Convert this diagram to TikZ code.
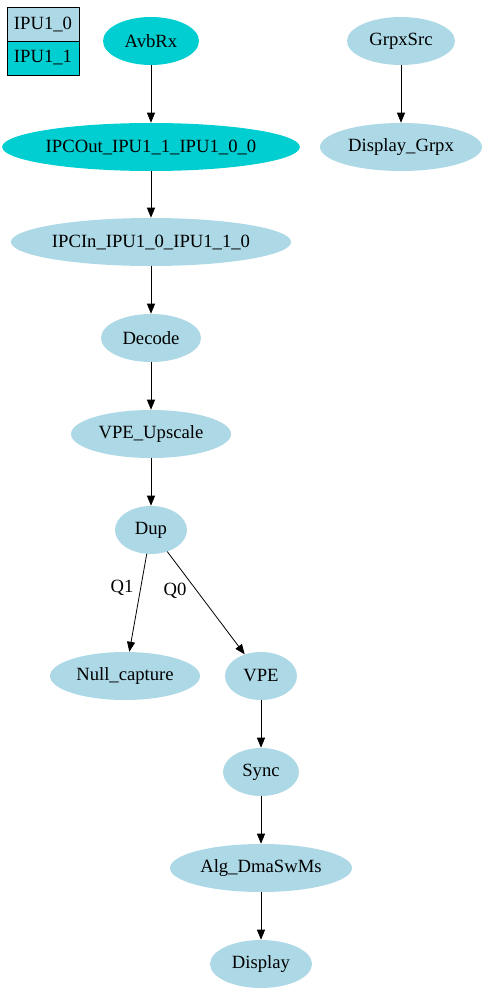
\documentclass[tikz,border=0pt]{standalone}
\usepackage{fontspec}
\setmainfont{Liberation Serif}
\usepackage{tikz}
\usetikzlibrary{shapes.geometric}
\usetikzlibrary{arrows.meta}
\definecolor{lblue}{RGB}{173,216,230}
\definecolor{dturq}{RGB}{0,206,209}
\tikzset{
  blk/.style={ellipse,fill=lblue,inner sep=0pt,minimum height=48*0.75pt,font=\fontsize{14}{16}\selectfont},
  ipu/.style={blk,fill=dturq},
  legbox/.style={draw,line width=0.6pt,inner sep=0pt,minimum width=72*0.75pt,minimum height=34*0.75pt,font=\fontsize{14}{16}\selectfont},
  lnk/.style={line width=0.6pt,->},
  lbl/.style={font=\fontsize{14}{16}\selectfont}
}
\begin{document}
\begin{tikzpicture}[line cap=round,line join=round,>={Triangle[length=7.5pt,width=6pt]},x=0.75pt,y=-0.75pt]
\useasboundingbox (0,0) rectangle (487,995);
% legend
\node[legbox,fill=lblue] (leg0) at (43,24) {IPU1\_0};
\node[legbox,fill=dturq] (leg1) at (43,58) {IPU1\_1};
% main chain
\node[ipu,minimum width=96*0.75pt] (avb) at (151,41) {AvbRx};
\node[ipu,minimum width=290*0.75pt] (ipcout) at (151,147) {IPCOut\_IPU1\_1\_IPU1\_0\_0};
\node[blk,minimum width=276*0.75pt] (ipcin) at (151,242) {IPCIn\_IPU1\_0\_IPU1\_1\_0};
\node[blk,minimum width=100*0.75pt] (dec) at (151,338) {Decode};
\node[blk,minimum width=160*0.75pt] (vpeup) at (151,434) {VPE\_Upscale};
\node[blk,minimum width=72*0.75pt] (dup) at (151,530) {Dup};
\node[blk,minimum width=150*0.75pt] (null) at (125,676) {Null\_capture};
\node[blk,minimum width=72*0.75pt] (vpe) at (261,676) {VPE};
\node[blk,minimum width=76*0.75pt] (sync) at (261,772) {Sync};
\node[blk,minimum width=182*0.75pt] (alg) at (261,868) {Alg\_DmaSwMs};
\node[blk,minimum width=102*0.75pt] (disp) at (261,964) {Display};
% graphics chain
\node[blk,minimum width=108*0.75pt] (grpx) at (401,41) {GrpxSrc};
\node[blk,minimum width=162*0.75pt] (dgrpx) at (401,147) {Display\_Grpx};
\draw[lnk] (avb) -- (ipcout);
\draw[lnk] (ipcout) -- (ipcin);
\draw[lnk] (ipcin) -- (dec);
\draw[lnk] (dec) -- (vpeup);
\draw[lnk] (vpeup) -- (dup);
\draw[lnk] (dup) -- (null);
\draw[lnk] (dup) -- (vpe);
\draw[lnk] (vpe) -- (sync);
\draw[lnk] (sync) -- (alg);
\draw[lnk] (alg) -- (disp);
\draw[lnk] (grpx) -- (dgrpx);
\node[lbl] (q1) at (122,588) {Q1};
\node[lbl] (q0) at (175,591) {Q0};
\end{tikzpicture}
\end{document}
